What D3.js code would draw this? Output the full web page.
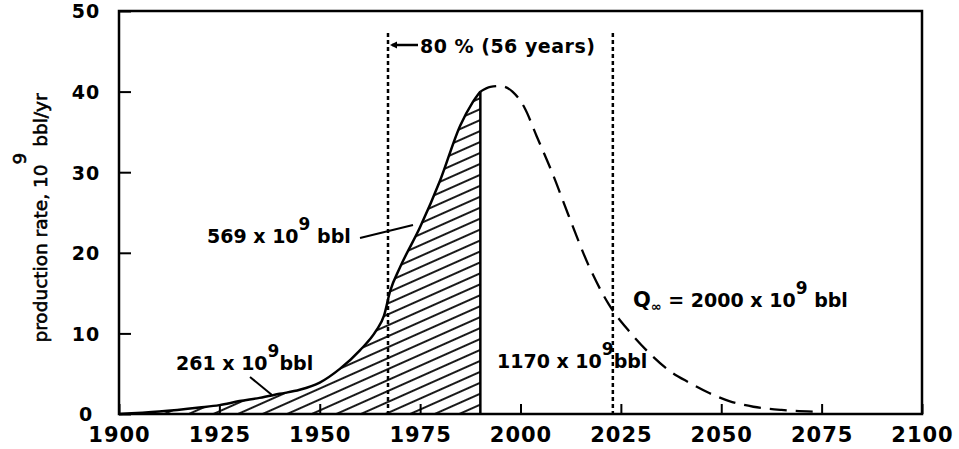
<!DOCTYPE html>
<html>
<head>
<meta charset="utf-8">
<script src="https://cdn.jsdelivr.net/npm/d3@7"></script>
<style>
  body { margin: 0; background: #fff; }
  svg text { font-family: "DejaVu Sans", sans-serif; font-weight: bold; fill: #000; }
</style>
</head>
<body>
<div id="chart"></div>
<script>
// cumulative production so far (solid, hatched)
const producedYears = [1900, 1910, 1920, 1925, 1930, 1935, 1940, 1945, 1950, 1955, 1960, 1964, 1966, 1967.5, 1970, 1975, 1980, 1985, 1988, 1990];
const producedRate = [0, 0.3, 0.8, 1.1, 1.6, 2.0, 2.5, 3.0, 3.9, 5.6, 7.9, 10.3, 12.2, 15.2, 18.2, 23.2, 29.0, 35.8, 38.6, 40];
// projected production (dashed)
const futureYears = [1990, 1992.5, 1995, 1998, 2001, 2004, 2008, 2012, 2017, 2022, 2027, 2032, 2037, 2042, 2047, 2052, 2058, 2065, 2073];
const futureRate = [40, 40.6, 40.7, 40.0, 38.0, 34.5, 29.8, 24.6, 18.4, 13.6, 10.3, 7.6, 5.4, 3.9, 2.6, 1.6, 0.9, 0.5, 0.3];
const xTickLabels = [1900, 1925, 1950, 1975, 2000, 2025, 2050, 2075, 2100];
const yTickLabels = [0, 10, 20, 30, 40, 50];
const band80 = [1967, 2023]; // 80% (56 years)
const cutYear = 1990;

const width = 959;
const height = 449;
const margin = { top: 11, right: 37, bottom: 35, left: 119 };

const x = d3.scaleLinear().domain([1900, 2100]).range([margin.left, width - margin.right]);
const y = d3.scaleLinear().domain([0, 50]).range([height - margin.bottom, margin.top]);

const svg = d3.select('#chart').append('svg')
  .attr('width', width)
  .attr('height', height);

// hatch pattern
svg.append('defs').append('pattern')
  .attr('id', 'hatch')
  .attr('patternUnits', 'userSpaceOnUse')
  .attr('width', 20)
  .attr('height', 10)
  .attr('patternTransform', 'rotate(-24)')
  .append('line')
  .attr('x1', 0).attr('x2', 20)
  .attr('y1', 5).attr('y2', 5)
  .attr('stroke', '#000')
  .attr('stroke-width', 1.8);

const produced = producedYears.map((d, i) => ({ x: d, y: producedRate[i] }));
const future = futureYears.map((d, i) => ({ x: d, y: futureRate[i] }));

const area = d3.area()
  .curve(d3.curveMonotoneX)
  .x(d => x(d.x))
  .y0(y(0))
  .y1(d => y(d.y));

const line = d3.line()
  .curve(d3.curveMonotoneX)
  .x(d => x(d.x))
  .y(d => y(d.y));

svg.append('path')
  .datum(produced)
  .attr('d', area)
  .attr('fill', 'url(#hatch)');

svg.append('path')
  .datum(produced)
  .attr('d', line)
  .attr('fill', 'none')
  .attr('stroke', '#000')
  .attr('stroke-width', 2.5);

svg.append('path')
  .datum(future)
  .attr('d', line)
  .attr('fill', 'none')
  .attr('stroke', '#000')
  .attr('stroke-width', 2.3)
  .attr('stroke-dasharray', '17,9');

// vertical edge of the hatched area
svg.append('line')
  .attr('x1', x(cutYear)).attr('x2', x(cutYear))
  .attr('y1', y(0)).attr('y2', y(40))
  .attr('stroke', '#000')
  .attr('stroke-width', 2.5);

// 80% dotted lines
svg.selectAll('.band')
  .data(band80)
  .enter().append('line')
  .attr('class', 'band')
  .attr('x1', d => x(d)).attr('x2', d => x(d))
  .attr('y1', 33).attr('y2', y(0))
  .attr('stroke', '#000')
  .attr('stroke-width', 2.5)
  .attr('stroke-dasharray', '4,3');

// frame
svg.append('rect')
  .attr('x', margin.left)
  .attr('y', margin.top)
  .attr('width', width - margin.left - margin.right)
  .attr('height', height - margin.top - margin.bottom)
  .attr('fill', 'none')
  .attr('stroke', '#000')
  .attr('stroke-width', 2.5);

// axes
const xAxis = svg.append('g')
  .attr('transform', `translate(0,${y(0)})`)
  .call(d3.axisBottom(x).tickValues(xTickLabels).tickSize(-10).tickFormat(d3.format('d')));
xAxis.select('.domain').remove();
xAxis.selectAll('line').attr('stroke-width', 2);
xAxis.selectAll('text')
  .attr('y', 28)
  .attr('dy', 0)
  .style('font-size', '21px')
  .style('font-family', '"DejaVu Sans", sans-serif')
  .style('font-weight', 'bold')
  .style('letter-spacing', '1px');

const yAxis = svg.append('g')
  .attr('transform', `translate(${margin.left},0)`)
  .call(d3.axisLeft(y).tickValues(yTickLabels).tickSize(-12));
yAxis.select('.domain').remove();
yAxis.selectAll('line').attr('stroke-width', 2);
yAxis.selectAll('text')
  .attr('x', -33)
  .attr('dy', '0.36em')
  .attr('text-anchor', 'middle')
  .style('font-size', '19px')
  .style('font-family', '"DejaVu Sans", sans-serif')
  .style('font-weight', 'bold')
  .style('letter-spacing', '1px');

// y axis title
const yTitle = svg.append('text')
  .attr('transform', 'translate(47,218) rotate(-90)')
  .attr('text-anchor', 'middle')
  .style('font-size', '18.5px')
  .style('font-weight', 'normal')
  .style('stroke', '#000')
  .style('stroke-width', 0.6);
yTitle.append('tspan').text('production rate, 10');
yTitle.append('tspan').attr('dy', -21).text('9');
yTitle.append('tspan').attr('dy', 21).text(' bbl/yr');

// labels with superscript 9
function supLabel(px, py, before, after) {
  const t = svg.append('text')
    .attr('x', px).attr('y', py)
    .style('font-size', '19px');
  t.append('tspan').text(before);
  t.append('tspan').attr('dy', -13).style('font-size', '17px').text('9');
  t.append('tspan').attr('dy', 13).text(after);
  return t;
}

supLabel(207, 243, '569 x 10', ' bbl');
supLabel(176, 370, '261 x 10', 'bbl');
supLabel(497, 368, '1170 x 10', 'bbl');

const q = svg.append('text')
  .attr('x', 633).attr('y', 307)
  .style('font-size', '19px');
q.append('tspan').style('font-size', '21px').text('Q');
q.append('tspan').attr('dy', 4).style('font-size', '13px').text('∞');
q.append('tspan').attr('dy', -4).text(' = 2000 x 10');
q.append('tspan').attr('dy', -13).style('font-size', '17px').text('9');
q.append('tspan').attr('dy', 13).text(' bbl');

// leader lines
svg.append('line')
  .attr('x1', 360).attr('y1', 238).attr('x2', 413).attr('y2', 225)
  .attr('stroke', '#000').attr('stroke-width', 2);
svg.append('line')
  .attr('x1', 250).attr('y1', 377).attr('x2', 272).attr('y2', 395)
  .attr('stroke', '#000').attr('stroke-width', 2);

// 80% annotation
svg.append('line')
  .attr('x1', x(band80[0]) + 4).attr('y1', 45).attr('x2', 418).attr('y2', 45)
  .attr('stroke', '#000').attr('stroke-width', 2.5);
svg.append('path')
  .attr('d', `M${x(band80[0]) + 2},45 l7,-3.5 l0,7 z`)
  .attr('fill', '#000');
svg.append('text')
  .attr('x', 420).attr('y', 53)
  .style('font-size', '19px')
  .style('letter-spacing', '0.5px')
  .text('80 % (56 years)');
</script>
</body>
</html>
